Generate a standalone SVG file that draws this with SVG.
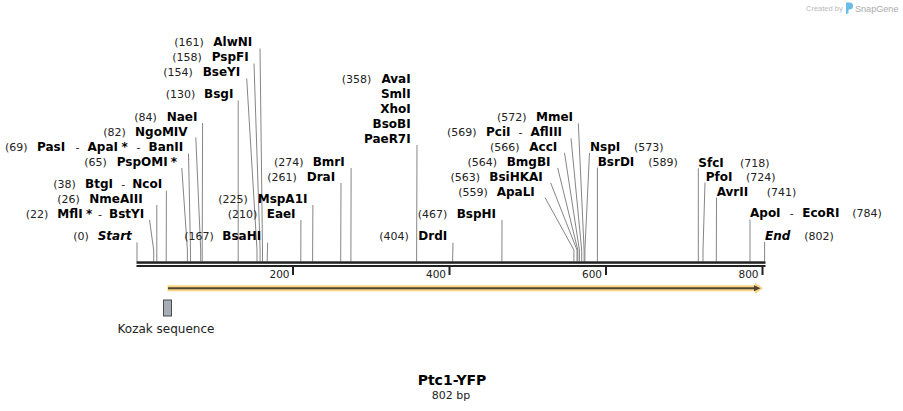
<svg xmlns="http://www.w3.org/2000/svg" width="903" height="411" viewBox="0 0 903 411">
<style>
.n{font-family:"DejaVu Sans",Verdana,sans-serif;font-size:11px;fill:#222}
.b{font-family:"DejaVu Sans",Verdana,sans-serif;font-size:12px;font-weight:bold;fill:#000}
.bi{font-family:"DejaVu Sans",Verdana,sans-serif;font-size:12px;font-weight:bold;font-style:italic;fill:#000}
.ax{font-family:"DejaVu Sans",Verdana,sans-serif;font-size:10.5px;fill:#222;text-anchor:end}
.cut{fill:none;stroke:#858585;stroke-width:1}
</style>
<rect width="903" height="411" fill="#fff"/>
<g id="logo">
<text x="806" y="11" style="font-family:'Liberation Sans',Arial,sans-serif;font-size:7.5px;fill:#bbb">Created by</text>
<path d="M846,2.5 h3.5 a3.5,3.5 0 0 1 0,7 h-1 v3.5 l-2.5,1.2 z" fill="#6bbbe9"/>
<text x="855" y="11.5" style="font-family:'Liberation Sans',Arial,sans-serif;font-size:9.1px;fill:#aaa">SnapGene</text>
</g>
<g id="connectors">
<polyline class="cut" points="260,48.5 262.5,250 262.5,261.5"/>
<polyline class="cut" points="254,63.5 260.1,250 260.1,261.5"/>
<polyline class="cut" points="246.7,78.5 257,250 257,261.5"/>
<polyline class="cut" points="238.2,100.5 238.2,261.5"/>
<polyline class="cut" points="202.6,123 202.2,250 202.2,261.5"/>
<polyline class="cut" points="195.8,137.5 200.7,250 200.7,261.5"/>
<polyline class="cut" points="188.5,153.5 190.5,250 190.5,261.5"/>
<polyline class="cut" points="181.8,168 187.4,250 187.4,261.5"/>
<polyline class="cut" points="166.4,190.5 166.2,261.5"/>
<polyline class="cut" points="156.8,205 156.8,261.5"/>
<polyline class="cut" points="149.5,220 153.7,250 153.7,261.5"/>
<polyline class="cut" points="137,242.3 137,261.5"/>
<polyline class="cut" points="267.6,242.7 267.2,261.5"/>
<polyline class="cut" points="312.9,205 312.6,261.5"/>
<polyline class="cut" points="300.9,220 300.8,261.5"/>
<polyline class="cut" points="341,183 340.7,261.5"/>
<polyline class="cut" points="351.1,168 350.9,261.5"/>
<polyline class="cut" points="417,145 416.6,261.5"/>
<polyline class="cut" points="453,242.7 452.6,261.5"/>
<polyline class="cut" points="502,220 501.9,261.5"/>
<polyline class="cut" points="578.3,123.3 584.1,250 584.1,261.5"/>
<polyline class="cut" points="571,138.3 581.7,250 581.7,261.5"/>
<polyline class="cut" points="564.5,152.8 579.4,250 579.4,261.5"/>
<polyline class="cut" points="557.7,168 577.8,250 577.8,261.5"/>
<polyline class="cut" points="550.7,183 577,250 577,261.5"/>
<polyline class="cut" points="545,197.5 573.9,250 573.9,261.5"/>
<polyline class="cut" points="589.5,152.8 584.9,250 584.9,261.5"/>
<polyline class="cut" points="597.4,167.5 597.4,261.5"/>
<polyline class="cut" points="698.3,168.3 698.3,261.5"/>
<polyline class="cut" points="705,182.5 703,250 703,261.5"/>
<polyline class="cut" points="716.5,197.5 716.3,261.5"/>
<polyline class="cut" points="750,219.5 750,261.5"/>
<polyline class="cut" points="764.6,242 764.6,261.5"/>
</g>
<g id="axis">
<rect x="136.5" y="261.3" width="629" height="2.5" fill="#222"/>
<rect x="136.5" y="265" width="629" height="2" fill="#222"/>
<rect x="292" y="267" width="2" height="8" fill="#222"/>
<rect x="448.5" y="267" width="2" height="8" fill="#222"/>
<rect x="605" y="267" width="2" height="8" fill="#222"/>
<rect x="761.5" y="267" width="2" height="8" fill="#222"/>
<text class="ax" x="289.5" y="278">200</text>
<text class="ax" x="446" y="278">400</text>
<text class="ax" x="602" y="278">600</text>
<text class="ax" x="758.5" y="278">800</text>
</g>
<g id="orf">
<path d="M167.5,285.3 H755 V282.8 L763,288.3 L755,293.8 V291.3 H167.5 Z" fill="#fbd184"/>
<line x1="168" y1="288.3" x2="756" y2="288.3" stroke="#4f4535" stroke-width="2"/>
<path d="M754,285.3 L760.5,288.3 L754,291.3 Z" fill="#4f4535"/>
</g>
<g id="kozak">
<rect x="163.5" y="300" width="8" height="16" fill="#a8acb4" stroke="#4a4a4a" stroke-width="1"/>
<text x="166" y="333" text-anchor="middle" style="font-family:'DejaVu Sans',Verdana,sans-serif;font-size:12px;fill:#222">Kozak sequence</text>
</g>
<g id="title">
<text x="452" y="385" text-anchor="middle" style="font-family:'DejaVu Sans',Verdana,sans-serif;font-size:14px;font-weight:bold;fill:#000">Ptc1-YFP</text>
<text x="451" y="398.5" text-anchor="middle" style="font-family:'DejaVu Sans',Verdana,sans-serif;font-size:11px;fill:#222">802 bp</text>
</g>
<g id="AlwNI"><text class="n" x="174.3" y="46">(161)</text><text class="b" x="213.3" y="46">AlwNI</text></g>
<g id="PspFI"><text class="n" x="172.3" y="61">(158)</text><text class="b" x="211.7" y="61">PspFI</text></g>
<g id="BseYI"><text class="n" x="163.3" y="76">(154)</text><text class="b" x="202.7" y="76">BseYI</text></g>
<g id="BsgI"><text class="n" x="165.7" y="98.3">(130)</text><text class="b" x="204" y="98.3">BsgI</text></g>
<g id="NaeI"><text class="n" x="134.3" y="121">(84)</text><text class="b" x="166.7" y="121">NaeI</text></g>
<g id="NgoMIV"><text class="n" x="103.3" y="136">(82)</text><text class="b" x="135" y="136">NgoMIV</text></g>
<g id="PasI"><text class="n" x="5" y="151">(69)</text><text class="b" x="37" y="151">PasI</text><text class="n" x="75.5" y="151">-</text><text class="b" x="87.5" y="151">ApaI</text><text class="b" x="121.5" y="151">*</text><text class="n" x="136.5" y="151">-</text><text class="b" x="148.5" y="151">BanII</text></g>
<g id="PspOMI"><text class="n" x="84.3" y="166">(65)</text><text class="b" x="116.7" y="166">PspOMI</text><text class="b" x="170.8" y="166">*</text></g>
<g id="BtgI"><text class="n" x="53.3" y="188.3">(38)</text><text class="b" x="85" y="188.3">BtgI</text><text class="n" x="121.3" y="188.3">-</text><text class="b" x="132.3" y="188.3">NcoI</text></g>
<g id="NmeAIII"><text class="n" x="57.3" y="203.3">(26)</text><text class="b" x="89.3" y="203.3">NmeAIII</text></g>
<g id="MflI"><text class="n" x="25.7" y="218">(22)</text><text class="b" x="57.3" y="218">MflI</text><text class="b" x="86" y="218">*</text><text class="n" x="98" y="218">-</text><text class="b" x="109" y="218">BstYI</text></g>
<g id="Start"><text class="n" x="73.3" y="240">(0)</text><text class="bi" x="97.7" y="240">Start</text></g>
<g id="BsaHI"><text class="n" x="184.3" y="240">(167)</text><text class="b" x="222.3" y="240">BsaHI</text></g>
<g id="MspA1I"><text class="n" x="218.3" y="203">(225)</text><text class="b" x="257.7" y="203">MspA1I</text></g>
<g id="EaeI"><text class="n" x="227.7" y="218">(210)</text><text class="b" x="266.7" y="218">EaeI</text></g>
<g id="BmrI"><text class="n" x="274" y="166">(274)</text><text class="b" x="312.7" y="166">BmrI</text></g>
<g id="DraI"><text class="n" x="267.3" y="181">(261)</text><text class="b" x="306.7" y="181">DraI</text></g>
<g id="AvaI"><text class="n" x="341.7" y="83">(358)</text>
<text class="b" x="410.7" y="83" text-anchor="end">AvaI</text>
<text class="b" x="410.7" y="98" text-anchor="end">SmlI</text>
<text class="b" x="410.7" y="113" text-anchor="end">XhoI</text>
<text class="b" x="410.7" y="128" text-anchor="end">BsoBI</text>
<text class="b" x="410.7" y="143" text-anchor="end">PaeR7I</text></g>
<g id="DrdI"><text class="n" x="379.3" y="240">(404)</text><text class="b" x="418.3" y="240">DrdI</text></g>
<g id="BspHI"><text class="n" x="417.7" y="218">(467)</text><text class="b" x="456.7" y="218">BspHI</text></g>
<g id="MmeI"><text class="n" x="497" y="121">(572)</text><text class="b" x="536" y="121">MmeI</text></g>
<g id="PciI"><text class="n" x="447" y="136">(569)</text><text class="b" x="486" y="136">PciI</text><text class="n" x="518.5" y="136">-</text><text class="b" x="530.5" y="136">AflIII</text></g>
<g id="AccI"><text class="n" x="490" y="151">(566)</text><text class="b" x="529.3" y="151">AccI</text></g>
<g id="BmgBI"><text class="n" x="467.5" y="166">(564)</text><text class="b" x="506.7" y="166">BmgBI</text></g>
<g id="BsiHKAI"><text class="n" x="450.5" y="181">(563)</text><text class="b" x="489.3" y="181">BsiHKAI</text></g>
<g id="ApaLI"><text class="n" x="458.3" y="196">(559)</text><text class="b" x="496.7" y="196">ApaLI</text></g>
<g id="NspI"><text class="b" x="590" y="151">NspI</text><text class="n" x="634" y="151">(573)</text></g>
<g id="BsrDI"><text class="b" x="597.7" y="166">BsrDI</text><text class="n" x="648.3" y="166">(589)</text></g>
<g id="SfcI"><text class="b" x="698.3" y="166.5">SfcI</text><text class="n" x="740" y="166.5">(718)</text></g>
<g id="PfoI"><text class="b" x="705.7" y="181">PfoI</text><text class="n" x="746" y="181">(724)</text></g>
<g id="AvrII"><text class="b" x="716.7" y="196">AvrII</text><text class="n" x="766.7" y="196">(741)</text></g>
<g id="ApoI"><text class="b" x="750" y="217">ApoI</text><text class="n" x="789.7" y="217">-</text><text class="b" x="802.3" y="217">EcoRI</text><text class="n" x="852.3" y="217">(784)</text></g>
<g id="End"><text class="bi" x="765" y="239.5">End</text><text class="n" x="804.3" y="239.5">(802)</text></g>
</svg>
